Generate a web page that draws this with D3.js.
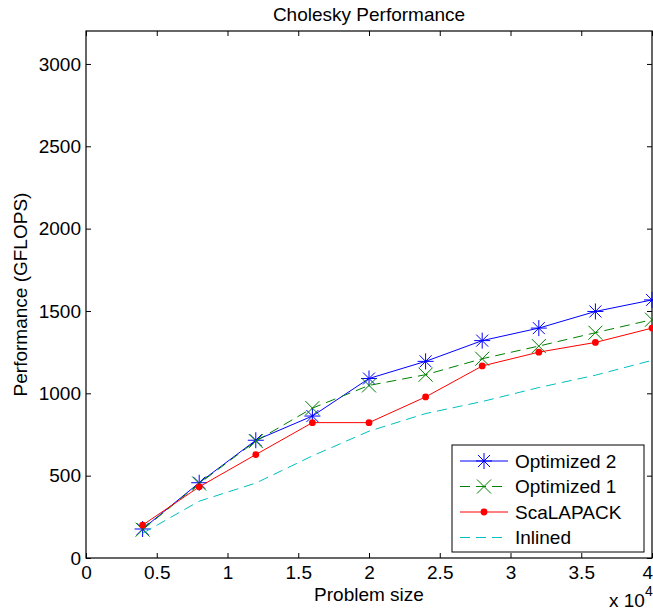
<!DOCTYPE html>
<html>
<head>
<meta charset="utf-8">
<script src="https://cdn.jsdelivr.net/npm/d3@7"></script>
<style>
  html, body { margin: 0; padding: 0; background: #fff; }
  svg { display: block; }
  text { font-family: "Liberation Sans", Arial, Helvetica, sans-serif; fill: #000; }
</style>
</head>
<body>
<svg id="chart" width="653" height="610"></svg>
<script>
// ---- data ----
const problemSize = [4000, 8000, 12000, 16000, 20000, 24000, 28000, 32000, 36000, 40000];
const optimized2 = [176, 457, 715, 862, 1090, 1194, 1320, 1396, 1497, 1567];
const optimized1 = [172, 452, 710, 910, 1048, 1113, 1210, 1287, 1368, 1447];
const scalapack  = [200, 432, 628, 822, 822, 978, 1166, 1250, 1309, 1396];
const inlined    = [150, 345, 455, 620, 770, 877, 950, 1035, 1110, 1200];
const seriesNames = ["Optimized 2", "Optimized 1", "ScaLAPACK", "Inlined"];
const xTickValues = [0, 5000, 10000, 15000, 20000, 25000, 30000, 35000, 40000];
const xTickLabels = ["0", "0.5", "1", "1.5", "2", "2.5", "3", "3.5", "4"];
const yTickValues = [0, 500, 1000, 1500, 2000, 2500, 3000];

const series = [
  {name: seriesNames[0], values: optimized2, color: "#0000ff", dash: null, marker: "star"},
  {name: seriesNames[1], values: optimized1, color: "#008000", dash: "10,6", marker: "x"},
  {name: seriesNames[2], values: scalapack,  color: "#ff0000", dash: null, marker: "dot"},
  {name: seriesNames[3], values: inlined,    color: "#00bfbf", dash: "10,6", marker: null}
];

const svg = d3.select("#chart");
const L = 86, R = 652, T = 31, B = 558;
const x = d3.scaleLinear().domain([0, 40000]).range([L, R]);
const y = d3.scaleLinear().domain([0, 3200]).range([B, T]);
const FS = 19;

// plot background
svg.append("rect").attr("x", L).attr("y", T).attr("width", R - L).attr("height", B - T)
  .attr("fill", "#fff");

// axes
const tick = 5;
const gx = svg.append("g").attr("transform", `translate(0,${B})`)
  .call(d3.axisBottom(x).tickValues(xTickValues).tickFormat((d, i) => xTickLabels[i]).tickSize(-tick).tickPadding(10));
const gxt = svg.append("g").attr("transform", `translate(0,${T})`)
  .call(d3.axisTop(x).tickValues(xTickValues).tickFormat("").tickSize(-tick));
const gy = svg.append("g").attr("transform", `translate(${L},0)`)
  .call(d3.axisLeft(y).tickValues(yTickValues).tickFormat(d3.format("d")).tickSize(-tick).tickPadding(5));
const gyr = svg.append("g").attr("transform", `translate(${R},0)`)
  .call(d3.axisRight(y).tickValues(yTickValues).tickFormat("").tickSize(-tick));
[gx, gxt, gy, gyr].forEach(g => {
  g.select(".domain").remove();
  g.selectAll(".tick line").attr("stroke", "#000").attr("stroke-width", 1);
  g.selectAll("text").attr("font-size", FS).attr("font-family", "Liberation Sans, Arial, sans-serif").attr("fill", "#000");
});
gx.selectAll("text").attr("dy", "0.71em").attr("y", 8);
// keep the last x label inside the page edge
gx.selectAll("text").filter(d => d === 40000).attr("text-anchor", "end").attr("x", 0.5);

// box
svg.append("rect").attr("x", L).attr("y", T).attr("width", R - L).attr("height", B - T)
  .attr("fill", "none").attr("stroke", "#000").attr("stroke-width", 1.2);

// markers
function drawMarker(g, type, cx, cy, color) {
  if (type === "star") {
    const s = 8, d = 6;
    g.append("path").attr("d",
      `M${cx - s},${cy}L${cx + s},${cy}M${cx},${cy - s}L${cx},${cy + s}` +
      `M${cx - d},${cy - d}L${cx + d},${cy + d}M${cx - d},${cy + d}L${cx + d},${cy - d}`)
      .attr("stroke", color).attr("stroke-width", 1).attr("fill", "none");
  } else if (type === "x") {
    const d = 7;
    g.append("path").attr("d",
      `M${cx - d},${cy - d}L${cx + d},${cy + d}M${cx - d},${cy + d}L${cx + d},${cy - d}`)
      .attr("stroke", color).attr("stroke-width", 1).attr("fill", "none");
  } else if (type === "dot") {
    g.append("circle").attr("cx", cx).attr("cy", cy).attr("r", 3.4).attr("fill", color);
  }
}

const line = d3.line().x((d, i) => x(problemSize[i])).y(d => y(d));
const plot = svg.append("g");
series.forEach(s => {
  const g = plot.append("g");
  g.append("path").datum(s.values).attr("d", line)
    .attr("fill", "none").attr("stroke", s.color).attr("stroke-width", 1)
    .attr("stroke-dasharray", s.dash);
  if (s.marker) s.values.forEach((v, i) => drawMarker(g, s.marker, x(problemSize[i]), y(v), s.color));
});

// legend
const lg = svg.append("g");
lg.append("rect").attr("x", 452).attr("y", 445).attr("width", 192).attr("height", 107)
  .attr("fill", "#fff").attr("stroke", "#000").attr("stroke-width", 1);
series.forEach((s, i) => {
  const yy = 461 + i * 25.5;
  lg.append("line").attr("x1", 460).attr("x2", 508).attr("y1", yy).attr("y2", yy)
    .attr("stroke", s.color).attr("stroke-width", 1).attr("stroke-dasharray", s.dash);
  if (s.marker) drawMarker(lg, s.marker, 484, yy, s.color);
  lg.append("text").attr("x", 515).attr("y", yy).attr("dy", "0.35em")
    .attr("font-size", FS).text(s.name);
});

// titles
svg.append("text").attr("x", (L + R) / 2).attr("y", 21).attr("text-anchor", "middle")
  .attr("font-size", FS).text("Cholesky Performance");
svg.append("text").attr("x", (L + R) / 2).attr("y", 601).attr("text-anchor", "middle")
  .attr("font-size", FS).text("Problem size");
svg.append("text").attr("transform", `translate(27,${(T + B) / 2}) rotate(-90)`)
  .attr("text-anchor", "middle").attr("font-size", FS).text("Performance (GFLOPS)");
const sc = svg.append("text").attr("x", 609).attr("y", 607).attr("font-size", FS);
sc.append("tspan").text("x 10");
sc.append("tspan").attr("font-size", 14).attr("dy", -11).text("4");
</script>
</body>
</html>
